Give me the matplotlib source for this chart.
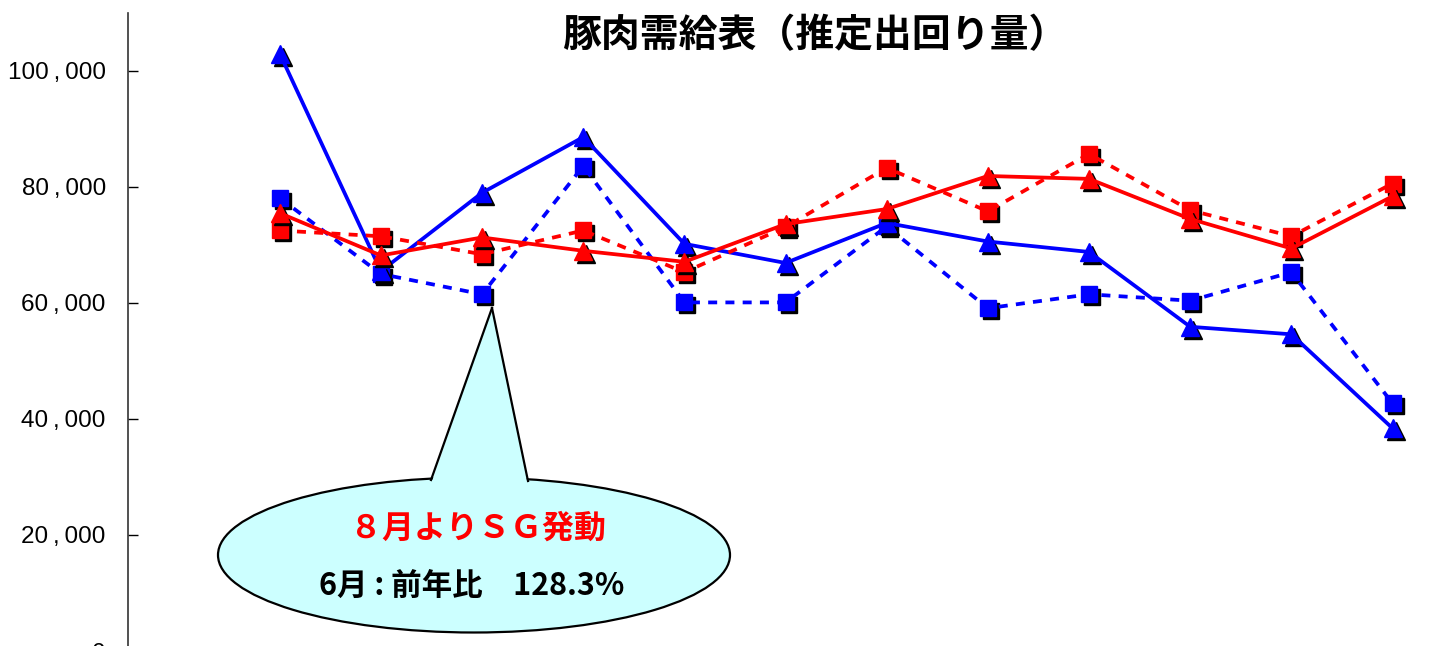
import matplotlib
matplotlib.use('Agg')
import matplotlib.pyplot as plt
import matplotlib.patches as mpatches
import matplotlib.transforms as mtransforms
from matplotlib.ticker import FuncFormatter
import numpy as np

plt.rcParams['font.family'] = ['Noto Sans CJK JP', 'DejaVu Sans']

# 12 months of data
months = list(range(12))
blue_solid = [103000, 65500, 79000, 88600, 70200, 66900, 73800, 70600, 68800, 55900, 54600, 38400]
blue_dotted = [78100, 65000, 61500, 83600, 60100, 60100, 73200, 59100, 61500, 60400, 65300, 42700]
red_solid = [75500, 68200, 71300, 69000, 67100, 73600, 76200, 81900, 81400, 74500, 69400, 78400]
red_dotted = [72500, 71500, 68400, 72500, 65300, 73100, 83300, 75800, 85700, 76000, 71500, 80600]

W, H = 1433, 646
fig = plt.figure(figsize=(W / 100, H / 100), dpi=100)

# axes placed in pixel terms: spine at x=128, y=0 at pixel row 651
ax = fig.add_axes([128 / W, (H - 651) / H, 1 - 128 / W, 638 / H])
ax.set_xlim(-1.5, 11.4)
ax.set_ylim(0, 110000)

shadow = ax.transData + mtransforms.ScaledTranslation(3 / 100, -3 / 100, fig.dpi_scale_trans)

series = [
    (blue_dotted, 'blue', 's', (0, (2.4, 2.2)), 11),
    (blue_solid, 'blue', '^', '-', 12.5),
    (red_dotted, 'red', 's', (0, (2.4, 2.2)), 11),
    (red_solid, 'red', '^', '-', 12.5),
]
z = 2
for vals, col, mk, ls, ms in series:
    ax.plot(months, vals, linestyle='none', marker=mk, markersize=ms,
            color='black', transform=shadow, zorder=z)
    ax.plot(months, vals, linestyle=ls, linewidth=2.7, marker=mk, markersize=ms,
            color=col, zorder=z + 1)
    z += 2

for s in ['top', 'right', 'bottom']:
    ax.spines[s].set_visible(False)
ax.spines['left'].set_linewidth(1.2)
ax.spines['left'].set_color('#333333')
ax.set_xticks([])
ax.set_yticks(np.arange(0, 110001, 20000))
ax.yaxis.set_major_formatter(FuncFormatter(lambda v, p: f'{int(v):,}'.replace(',', '\u2009,\u2009')))
ax.tick_params(axis='y', direction='in', length=7, width=1, pad=16, labelsize=17.5)
for lab in ax.get_yticklabels():
    lab.set_family(['Liberation Sans', 'DejaVu Sans'])
ax.patch.set_visible(False)

def fx(x):
    return x / W

def fy(y):
    return (H - y) / H

fig.text(fx(815), fy(36), '豚肉需給表（推定出回り量）', ha='center', va='center',
         fontsize=28, fontweight='bold', color='black')

# callout balloon
cx, cy, ew, eh = 474, 555, 512, 155
fill = '#CCFFFF'
ell = mpatches.Ellipse((fx(cx), fy(cy)), ew / W, eh / H, transform=fig.transFigure,
                       facecolor=fill, edgecolor='black', linewidth=1.6, zorder=20)
fig.patches.append(ell)
tip = (492, 308)
b1 = (431, 480)
b2 = (528, 481)
tri = mpatches.Polygon([(fx(b1[0]), fy(b1[1] + 4)), (fx(tip[0]), fy(tip[1])),
                        (fx(b2[0]), fy(b2[1] + 4))], closed=True,
                       transform=fig.transFigure, facecolor=fill, edgecolor='none', zorder=21)
fig.patches.append(tri)
for b in (b1, b2):
    fig.add_artist(plt.Line2D([fx(b[0]), fx(tip[0])], [fy(b[1]), fy(tip[1])],
                              transform=fig.transFigure, color='black', linewidth=1.6, zorder=22))

fig.text(fx(478), fy(529), '８月よりＳＧ発動', ha='center', va='center',
         fontsize=23, fontweight='bold', color='red', zorder=25)
fig.text(fx(472), fy(586), '6月 : 前年比　128.3%', ha='center', va='center',
         fontsize=22, fontweight='bold', color='black', zorder=25)

fig.savefig('out.png', dpi=100)
